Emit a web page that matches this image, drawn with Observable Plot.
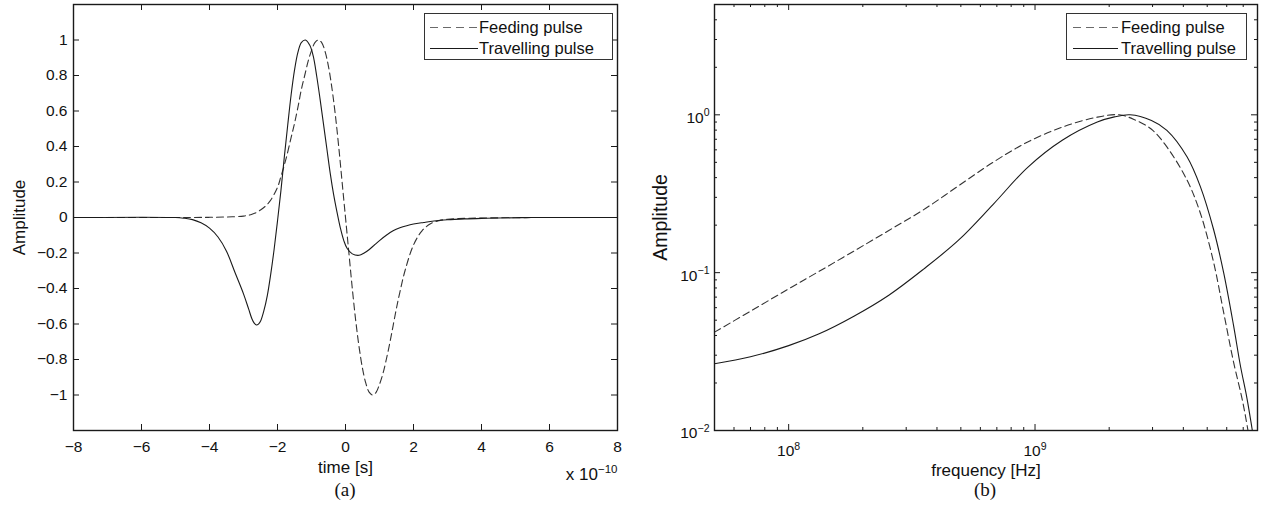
<!DOCTYPE html>
<html>
<head>
<meta charset="utf-8">
<script src="https://cdn.jsdelivr.net/npm/d3@7"></script>
<script src="https://cdn.jsdelivr.net/npm/@observablehq/plot@0.6"></script>
<style>
  body { margin: 0; background: #fff; }
  #wrap { position: relative; width: 1261px; height: 505px; overflow: hidden; background: #fff;
          font-family: "Liberation Sans", Arial, sans-serif; color: #111; }
  .panel { position: absolute; top: 0; }
  .cap { position: absolute; font-family: "Liberation Serif", "Times New Roman", serif; font-size: 19px;
         transform: translate(-50%, -50%); white-space: nowrap; }
  .legend { position: absolute; border: 1px solid #333; background: #fff; box-sizing: border-box; }
  .legend .row { position: absolute; left: 0; right: 0; height: 20px; }
  .legend svg { position: absolute; top: 0; }
  .legend span { position: absolute; top: 50%; transform: translateY(-50%); font-size: 16.5px; white-space: nowrap; }
</style>
</head>
<body>
<div id="wrap">
  <div id="panelA" class="panel" style="left:0"></div>
  <div id="panelB" class="panel" style="left:630px"></div>
</div>
<script>
// ---------- Panel (a): time domain (time in units of 1e-10 s) ----------
const feedT = [-8, -5, -4.5, -4, -3.5, -3, -2.75, -2.5, -2.25, -2, -1.9, -1.75, -1.6, -1.5, -1.4, -1.3, -1.2, -1.1, -1, -0.9,
               -0.8, -0.7, -0.6, -0.5, -0.4, -0.3, -0.2, -0.1, 0, 0.1, 0.2, 0.3, 0.4, 0.5, 0.6, 0.7, 0.8, 0.9, 1, 1.1,
               1.2, 1.3, 1.4, 1.5, 1.6, 1.75, 2, 2.25, 2.5, 2.75, 3, 3.5, 4, 5, 6, 8];
const feedA = [0, 0, 0.0003, 0.001, 0.003, 0.008, 0.018, 0.042, 0.085, 0.17, 0.23, 0.33, 0.45, 0.53, 0.62, 0.72, 0.8, 0.88, 0.94, 0.985,
               1, 0.985, 0.935, 0.85, 0.73, 0.58, 0.4, 0.2, 0, -0.2, -0.4, -0.58, -0.73, -0.85, -0.935, -0.985, -1, -0.985, -0.94, -0.88,
               -0.8, -0.71, -0.61, -0.51, -0.42, -0.3, -0.155, -0.075, -0.035, -0.018, -0.01, -0.005, -0.003, -0.001, 0, 0];

const travT = [-8, -5, -4.75, -4.5, -4.25, -4, -3.75, -3.5, -3.25, -3, -2.85, -2.75, -2.68, -2.62, -2.56, -2.5, -2.4, -2.3, -2.2, -2.1, -2, -1.9,
               -1.8, -1.7, -1.6, -1.5, -1.4, -1.3, -1.18, -1.05, -0.95, -0.85, -0.75, -0.65, -0.55, -0.45, -0.35, -0.25, -0.15, -0.05, 0.05, 0.2,
               0.4, 0.55, 0.7, 0.85, 1, 1.2, 1.4, 1.6, 1.8, 2, 2.3, 2.6, 3, 3.5, 4, 4.5, 5, 5.5, 8];
const travA = [0, 0, -0.004, -0.012, -0.03, -0.06, -0.11, -0.19, -0.31, -0.43, -0.515, -0.572, -0.597, -0.606, -0.601, -0.585, -0.525, -0.44, -0.32, -0.18, -0.02, 0.15,
               0.34, 0.52, 0.69, 0.83, 0.93, 0.985, 1, 0.97, 0.91, 0.8, 0.67, 0.53, 0.39, 0.25, 0.13, 0.03, -0.06, -0.13, -0.175, -0.205,
               -0.213, -0.2, -0.18, -0.155, -0.13, -0.1, -0.075, -0.058, -0.046, -0.037, -0.028, -0.02, -0.013, -0.008, -0.005, -0.003, -0.001, 0, 0];

const timeTicks = [-8, -6, -4, -2, 0, 2, 4, 6, 8];
const timeTickLabels = ["−8", "−6", "−4", "−2", "0", "2", "4", "6", "8"];
const ampTicks = [-1, -0.8, -0.6, -0.4, -0.2, 0, 0.2, 0.4, 0.6, 0.8, 1];
const ampTickLabels = ["−1", "−0.8", "−0.6", "−0.4", "−0.2", "0", "0.2", "0.4", "0.6", "0.8", "1"];

// ---------- Panel (b): frequency domain ----------
const feedF = [5e7, 7e7, 1e8, 1.33e8, 1.84e8, 2.55e8, 3.52e8, 4.88e8, 6.75e8, 9.34e8, 1.29e9, 1.79e9, 2.2e9, 2.54e9, 2.97e9,
               3.43e9, 4.14e9, 4.69e9, 5.31e9, 5.83e9, 6.4e9, 6.92e9, 7.25e9, 7.6e9];
const feedS = [0.042, 0.057, 0.079, 0.102, 0.137, 0.185, 0.25, 0.354, 0.5, 0.673, 0.836, 0.967, 1.0, 0.93, 0.81,
               0.626, 0.386, 0.238, 0.116, 0.056, 0.027, 0.016, 0.0109, 0.007];

const travF = [5e7, 7e7, 1e8, 1.33e8, 1.84e8, 2.55e8, 3.52e8, 4.88e8, 6.75e8, 9.34e8, 1.29e9, 1.79e9, 2.1e9, 2.43e9, 2.97e9,
               3.43e9, 4.14e9, 4.69e9, 5.31e9, 5.83e9, 6.4e9, 6.81e9, 7.25e9, 7.6e9, 7.8e9];
const travS = [0.0265, 0.0293, 0.0345, 0.041, 0.053, 0.072, 0.105, 0.16, 0.27, 0.465, 0.69, 0.90, 0.97, 1.0, 0.92,
               0.797, 0.542, 0.351, 0.187, 0.10, 0.046, 0.026, 0.016, 0.0103, 0.008];

const freqTicks = [1e8, 1e9];
const freqTickLabels = ["10^8", "10^9"];
const freqMinor = [6e7, 7e7, 8e7, 9e7, 2e8, 3e8, 4e8, 5e8, 6e8, 7e8, 8e8, 9e8, 2e9, 3e9, 4e9, 5e9, 6e9, 7e9];
const specTicks = [0.01, 0.1, 1];
const specTickLabels = ["10^−2", "10^−1", "10^0"];
const specMinor = [0.02, 0.03, 0.04, 0.05, 0.06, 0.07, 0.08, 0.09, 0.2, 0.3, 0.4, 0.5, 0.6, 0.7, 0.8, 0.9, 2, 3, 4];

const seriesNames = ["Feeding pulse", "Travelling pulse"];

// ---------- build ----------
const INK = "#1a1a1a";
const FONT = '"Liberation Sans", Arial, sans-serif';
const zip = (xs, ys, kx, ky) => xs.map((v, i) => ({[kx]: v, [ky]: ys[i]}));
const feedRows = zip(feedT, feedA, "t", "a");
const travRows = zip(travT, travA, "t", "a");
const feedSpec = zip(feedF, feedS, "f", "s");
const travSpec = zip(travF, travS, "f", "s");

function supify(svg) {
  d3.select(svg).selectAll("text").each(function () {
    const t = this.textContent;
    if (!t.includes("^")) return;
    const [base, exp] = t.split("^");
    const sel = d3.select(this);
    sel.text(base);
    sel.append("tspan").attr("dy", "-0.6em").attr("font-size", "0.68em").text(exp);
  });
}

const H = 505, MT = 4, MB = 75;
const frameH = H - MT - MB; // 426

// Panel (a)
const wA = 630, mlA = 73, mrA = 13, frameWA = wA - mlA - mrA;
const plotA = Plot.plot({
  width: wA, height: H,
  marginLeft: mlA, marginRight: mrA, marginTop: MT, marginBottom: MB,
  style: {fontFamily: FONT, fontSize: "15.5px", color: "#111", background: "transparent"},
  x: {type: "linear", domain: [-8, 8]},
  y: {type: "linear", domain: [-1.2, 1.2]},
  marks: [
    Plot.axisX(timeTicks, {tickSize: 0, tickPadding: 10, tickFormat: (d, i) => timeTickLabels[i], label: null}),
    Plot.axisY(ampTicks, {tickSize: 0, tickPadding: 6, tickFormat: (d, i) => ampTickLabels[i], label: null}),
    Plot.tickX(timeTicks, {x: d => d, insetTop: frameH - 6, stroke: INK}),
    Plot.tickX(timeTicks, {x: d => d, insetBottom: frameH - 6, stroke: INK}),
    Plot.tickY(ampTicks, {y: d => d, insetRight: frameWA - 6, stroke: INK}),
    Plot.tickY(ampTicks, {y: d => d, insetLeft: frameWA - 6, stroke: INK}),
    Plot.line(feedRows, {x: "t", y: "a", stroke: "#333", strokeWidth: 1.1, strokeDasharray: "7,4", curve: "catmull-rom", clip: true}),
    Plot.line(travRows, {x: "t", y: "a", stroke: "#1a1a1a", strokeWidth: 1.1, curve: "catmull-rom", clip: true}),
    Plot.frame({stroke: INK, strokeWidth: 1.4}),
    Plot.text(["time [s]"], {frameAnchor: "bottom", lineAnchor: "middle", textAnchor: "middle", dy: 37, fontSize: 17}),
    Plot.text(["x 10^−10"], {frameAnchor: "bottom-right", lineAnchor: "middle", textAnchor: "end", dy: 44, fontSize: 17}),
    Plot.text(["Amplitude"], {frameAnchor: "left", lineAnchor: "middle", textAnchor: "middle", rotate: -90, dx: -54, fontSize: 17})
  ]
});
supify(plotA);
document.getElementById("panelA").append(plotA);

// Panel (b)
const wB = 631, mlB = 84, mrB = 4, frameWB = wB - mlB - mrB;
const plotB = Plot.plot({
  width: wB, height: H,
  marginLeft: mlB, marginRight: mrB, marginTop: MT, marginBottom: MB,
  style: {fontFamily: FONT, fontSize: "15.5px", color: "#111", background: "transparent"},
  x: {type: "log", domain: [5e7, 8e9], axis: null},
  y: {type: "log", domain: [0.01, 5], axis: null},
  marks: [
    Plot.text(freqTicks, {x: d => d, text: (d, i) => freqTickLabels[i], frameAnchor: "bottom", lineAnchor: "middle", textAnchor: "middle", dy: 21, fill: "#111"}),
    Plot.text(specTicks, {y: d => d, text: (d, i) => specTickLabels[i], frameAnchor: "left", lineAnchor: "middle", textAnchor: "end", dx: -5, dy: 3, fill: "#111"}),
    Plot.tickX(freqTicks, {x: d => d, insetTop: frameH - 6, stroke: INK}),
    Plot.tickX(freqTicks, {x: d => d, insetBottom: frameH - 6, stroke: INK}),
    Plot.tickX(freqMinor, {x: d => d, insetTop: frameH - 3, stroke: INK}),
    Plot.tickX(freqMinor, {x: d => d, insetBottom: frameH - 3, stroke: INK}),
    Plot.tickY(specTicks, {y: d => d, insetRight: frameWB - 6, stroke: INK}),
    Plot.tickY(specTicks, {y: d => d, insetLeft: frameWB - 6, stroke: INK}),
    Plot.tickY(specMinor, {y: d => d, insetRight: frameWB - 3, stroke: INK}),
    Plot.tickY(specMinor, {y: d => d, insetLeft: frameWB - 3, stroke: INK}),
    Plot.line(feedSpec, {x: "f", y: "s", stroke: "#333", strokeWidth: 1.1, strokeDasharray: "7,4", curve: "catmull-rom", clip: true}),
    Plot.line(travSpec, {x: "f", y: "s", stroke: "#1a1a1a", strokeWidth: 1.1, curve: "catmull-rom", clip: true}),
    Plot.frame({stroke: INK, strokeWidth: 1.4}),
    Plot.text(["frequency [Hz]"], {frameAnchor: "bottom", lineAnchor: "middle", textAnchor: "middle", dy: 40, fontSize: 17}),
    Plot.text(["Amplitude"], {frameAnchor: "left", lineAnchor: "middle", textAnchor: "middle", rotate: -90, dx: -54, fontSize: 19.5})
  ]
});
supify(plotB);
document.getElementById("panelB").append(plotB);

// Legends (HTML overlay inside each plot frame)
const wrap = document.getElementById("wrap");
function legend(left, top, width, sx0, sx1, textX) {
  const box = document.createElement("div");
  box.className = "legend";
  Object.assign(box.style, {left: left + "px", top: top + "px", width: width + "px", height: "47px"});
  const styles = [{stroke: "#6a6a6a", dash: "8,5"}, {stroke: "#1a1a1a", dash: null}];
  seriesNames.forEach((name, i) => {
    const row = document.createElement("div");
    row.className = "row";
    row.style.top = (3 + i * 20.5) + "px";
    const svg = d3.create("svg").attr("width", width).attr("height", 20);
    svg.append("line").attr("x1", sx0).attr("x2", sx1).attr("y1", 10.5).attr("y2", 10.5)
      .attr("stroke", styles[i].stroke).attr("stroke-width", 1.1)
      .attr("stroke-dasharray", styles[i].dash);
    row.append(svg.node());
    const span = document.createElement("span");
    span.textContent = name;
    span.style.left = textX + "px";
    row.append(span);
    box.append(row);
  });
  wrap.append(box);
}
legend(424, 13, 189, 5, 53, 54);
legend(1066, 13, 181, 6, 51, 54);

// Captions
function caption(text, cx, cy) {
  const d = document.createElement("div");
  d.className = "cap";
  d.textContent = text;
  d.style.left = cx + "px";
  d.style.top = cy + "px";
  wrap.append(d);
}
caption("(a)", 345, 490);
caption("(b)", 985, 490);
</script>
</body>
</html>
